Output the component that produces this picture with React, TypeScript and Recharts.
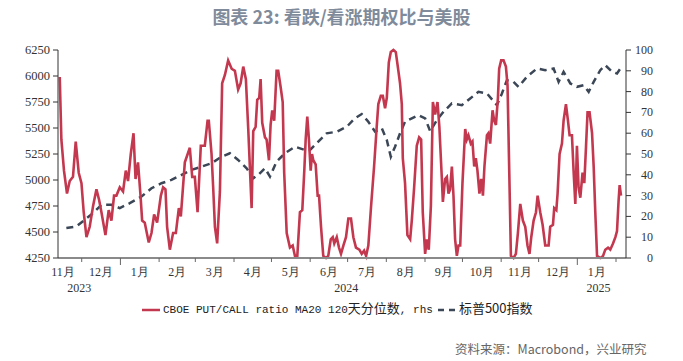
import React from 'react';
import { LineChart, Line, XAxis, YAxis } from 'recharts';

// x values are days counted from 2023-11-01
const DAY_START = 11;
const DAY_END = 466;

const RED = '#c3384f';
const SLATE = '#3b4656';
const AXIS = '#333333';
const SERIF = '"Liberation Serif", "Times New Roman", serif';
const CJK = '"Noto Sans CJK SC", sans-serif';

// CBOE put/call ratio MA20, 120-day percentile (rhs, 0-100)
const putCallPct: [number, number][] = [
  [12.4, 87], [13.7, 57], [15.8, 42], [18.2, 31], [20.4, 37], [23.0, 39], [25.2, 56], [27.6, 41],
  [29.8, 36], [31.6, 22], [33.8, 10], [36.4, 15], [39.1, 25], [41.8, 33], [43.9, 28], [45.8, 22],
  [49.0, 11], [51.6, 23], [53.8, 18], [55.9, 30], [57.8, 30], [60.5, 34], [63.1, 32], [65.3, 42],
  [67.1, 37], [69.3, 50], [71.5, 60], [73.1, 38], [75.1, 46], [77.1, 30], [78.4, 18], [80.5, 17],
  [83.7, 7.5], [85.9, 12], [88.0, 21], [90.4, 17], [93.4, 30], [95.2, 34], [97.1, 33], [98.4, 15],
  [100.6, 4], [103.2, 12], [105.4, 12], [107.8, 24], [109.4, 20], [112.6, 46], [116.6, 53], [118.5, 39],
  [120.6, 39], [122.8, 22], [125.4, 54], [128.6, 54], [130.8, 66], [131.8, 66], [134.0, 50], [135.3, 34],
  [136.7, 15], [138.5, 7], [140.7, 32], [142.5, 84], [144.7, 88], [147.3, 95], [150.1, 91], [152.7, 90],
  [155.3, 81], [157.3, 84], [159.4, 92], [161.5, 86], [163.4, 62], [166.1, 24], [167.4, 61], [169.3, 63],
  [170.6, 76], [172.2, 77], [173.3, 86], [174.6, 65], [176.8, 58], [178.1, 57], [180.0, 47], [181.3, 64],
  [182.6, 71], [184.2, 66], [186.1, 90], [187.4, 90], [189.4, 82], [191.0, 75], [192.2, 41], [194.2, 12],
  [196.8, 5], [199.0, 6], [200.8, 1], [202.7, 1], [204.8, 22], [206.7, 23], [208.3, 42], [209.4, 57],
  [210.7, 68], [212.0, 57], [213.4, 42], [214.5, 50], [215.5, 47], [217.4, 45], [219.0, 30], [220.1, 30],
  [221.7, 15], [223.5, 1], [225.7, 0], [227.5, 1], [229.5, 9], [231.1, 10], [232.3, 7], [234.3, 10],
  [236.1, 5], [237.7, 2], [239.6, 6], [241.7, 10], [243.6, 19], [245.7, 19], [247.6, 10], [249.7, 5],
  [252.4, 4], [254.3, 2], [256.2, 3.5], [257.8, 1], [259.6, 6], [261.8, 25], [264.2, 44], [266.3, 63],
  [267.6, 74], [269.6, 78], [271.2, 78], [273.0, 72], [274.4, 77], [276.0, 94], [277.6, 99], [279.7, 100],
  [281.6, 99], [283.2, 92], [285.0, 84], [286.4, 74], [287.2, 48], [289.0, 36], [290.9, 11], [293.1, 9],
  [294.4, 18], [296.3, 34], [298.4, 54], [300.3, 58], [301.9, 57], [303.2, 22], [305.1, 2], [306.4, 9],
  [308.0, 4], [309.7, 25], [311.3, 75], [313.1, 69], [315.0, 75], [316.5, 63], [318.5, 38], [319.3, 27],
  [321.1, 38], [322.5, 39], [323.8, 31], [325.1, 33], [326.5, 44], [327.8, 30], [329.1, 9], [330.5, 1],
  [331.8, 6], [333.2, 6], [335.0, 36], [337.2, 62], [338.5, 57], [339.8, 59], [341.7, 55], [343.0, 56],
  [344.4, 44], [345.7, 48], [347.0, 42], [348.6, 31], [350.0, 38], [351.4, 30], [352.6, 44], [354.6, 59],
  [355.8, 60], [357.2, 55], [359.1, 71], [360.4, 66], [361.8, 64], [363.4, 77], [364.4, 91], [366.0, 95],
  [367.9, 95], [369.8, 92], [371.1, 83], [372.5, 41], [373.8, 1], [375.9, 0], [377.8, 2], [379.4, 12],
  [381.3, 26], [383.4, 18], [385.3, 15], [387.1, 6], [388.7, 2], [390.1, 10], [392.0, 18], [393.9, 22],
  [395.2, 30], [397.3, 22], [399.2, 16], [401.3, 6], [404.0, 6], [405.3, 15], [407.5, 16], [408.5, 24],
  [410.2, 23], [411.2, 31], [412.8, 50], [414.7, 55], [416.0, 66], [417.9, 74], [419.5, 66], [420.8, 59],
  [422.7, 59], [424.0, 42], [425.4, 26], [426.7, 54], [428.0, 34], [429.4, 29], [431.2, 41], [432.6, 36],
  [434.0, 54], [435.2, 70], [436.8, 70], [438.8, 60], [440.1, 44], [441.4, 22], [442.8, 1], [445.4, 0],
  [447.6, 1], [449.4, 4], [451.6, 5], [453.4, 4], [455.6, 7], [457.5, 10], [458.8, 13], [460.1, 28],
  [460.9, 35], [462.0, 30],
];

// S&P 500 index (lhs)
const spx: [number, number][] = [
  [17.7, 4538], [25.7, 4553], [32.4, 4617], [39.1, 4682], [45.8, 4761], [53.8, 4761], [60.5, 4730],
  [68.5, 4777], [77.9, 4841], [85.9, 4921], [93.9, 4969], [101.9, 5001], [110.0, 5049], [118.0, 5097],
  [126.0, 5128], [134.0, 5161], [142.0, 5224], [148.7, 5257], [155.3, 5193], [162.1, 5113], [167.4, 5017],
  [171.4, 5049], [176.8, 5113], [180.8, 5033], [186.1, 5176], [192.8, 5257], [200.8, 5320], [208.8, 5289],
  [212.9, 5289], [219.5, 5368], [226.2, 5449], [234.3, 5464], [242.3, 5512], [248.9, 5593], [254.3, 5634],
  [259.6, 5560], [265.0, 5464], [270.4, 5497], [274.4, 5384], [277.6, 5224], [281.0, 5320], [285.0, 5449],
  [289.0, 5560], [294.4, 5593], [299.7, 5624], [305.1, 5593], [309.1, 5470], [314.5, 5576], [319.8, 5656],
  [326.5, 5736], [334.5, 5720], [341.2, 5784], [347.8, 5848], [354.6, 5832], [362.6, 5720], [366.6, 5832],
  [370.6, 5960], [375.9, 5944], [379.9, 5896], [386.6, 5992], [394.7, 6072], [401.3, 6056], [408.0, 6072],
  [412.0, 5944], [416.0, 6040], [421.4, 5928], [426.7, 5896], [432.0, 5912], [436.1, 5848], [440.1, 5944],
  [445.4, 6056], [449.4, 6104], [454.9, 6040], [458.8, 6024], [461.5, 6072],
];

const monthStarts = [30, 61, 92, 121, 152, 182, 213, 243, 274, 305, 335, 366, 396, 427, 458];
const yearStarts = [61, 427];
const monthMids = [15, 45.5, 76.5, 106.5, 136.5, 167, 197.5, 228, 258.5, 289.5, 320, 350.5, 381, 411.5, 442.5];
const monthNames = ['11月', '12月', '1月', '2月', '3月', '4月', '5月', '6月', '7月', '8月', '9月', '10月', '11月', '12月', '1月'];
const yearMids = [28, 242, 444];
const yearNames = ['2023', '2024', '2025'];
const spxTicks = [4250, 4500, 4750, 5000, 5250, 5500, 5750, 6000, 6250];
const pctTicks = [0, 10, 20, 30, 40, 50, 60, 70, 80, 90, 100];

const ratioData = putCallPct.map(([day, value]) => ({ day, value }));
const spxData = spx.map(([day, value]) => ({ day, value }));

function DateTick(props: any) {
  const { x, y, payload } = props;
  const v = payload.value;
  const mi = monthMids.indexOf(v);
  if (mi >= 0) {
    return (
      <text x={x} y={y + 18} textAnchor="middle" fontSize={12} fontFamily={SERIF} fill={AXIS}>
        {monthNames[mi]}
      </text>
    );
  }
  const yi = yearMids.indexOf(v);
  if (yi >= 0) {
    return (
      <text x={x} y={y + 34} textAnchor="middle" fontSize={12} fontFamily={SERIF} fill={AXIS}>
        {yearNames[yi]}
      </text>
    );
  }
  const major = yearStarts.includes(v);
  return <line x1={x} x2={x} y1={y} y2={y + (major ? 7 : 4)} stroke="#666" strokeWidth={1} />;
}

function RightTick(props: any) {
  const { x, y, payload } = props;
  return (
    <text x={x + 20} y={y} dy={4} textAnchor="end" fontSize={12} fontFamily={SERIF} fill={AXIS}>
      {payload.value}
    </text>
  );
}

const cjk = { fontFamily: CJK, fontSize: 13 };
const marker = { verticalAlign: 'middle' as const, display: 'inline-block' };

export default function App() {
  const dateTicks = [...monthStarts, ...monthMids, ...yearMids].sort((a, b) => a - b);
  return (
    <div style={{ position: 'fixed', left: 0, top: 0, width: 683, height: 361, background: '#fff' }}>
      <div
        style={{
          position: 'absolute', left: 0, top: 3, width: 683, textAlign: 'center',
          fontFamily: CJK, fontWeight: 700, fontSize: 18, color: '#7f8b9b',
        }}
      >
        图表 23: 看跌/看涨期权比与美股
      </div>
      <LineChart
        width={683}
        height={361}
        margin={{ top: 50, right: 17, bottom: 63, left: 8 }}
        style={{ position: 'absolute', left: 0, top: 0 }}
      >
        <XAxis
          xAxisId="d"
          dataKey="day"
          type="number"
          domain={[DAY_START, DAY_END]}
          allowDataOverflow
          ticks={dateTicks}
          interval={0}
          tickLine={false}
          tickSize={0}
          tickMargin={0}
          tick={<DateTick />}
          axisLine={{ stroke: '#8a8a8a', strokeWidth: 2 }}
          height={40}
        />
        <YAxis
          yAxisId="spx"
          orientation="left"
          domain={[4250, 6250]}
          ticks={spxTicks}
          interval={0}
          width={50}
          tickSize={5}
          tickMargin={3}
          tick={{ fontSize: 12.5, fontFamily: SERIF, fill: AXIS }}
          axisLine={{ stroke: AXIS }}
          tickLine={{ stroke: AXIS }}
        />
        <YAxis
          yAxisId="pct"
          orientation="right"
          domain={[0, 100]}
          ticks={pctTicks}
          interval={0}
          width={40}
          tickSize={5}
          tickMargin={2}
          tick={<RightTick />}
          axisLine={{ stroke: AXIS }}
          tickLine={{ stroke: AXIS }}
        />
        <Line
          xAxisId="d"
          yAxisId="spx"
          data={spxData}
          dataKey="value"
          stroke={SLATE}
          strokeWidth={2.5}
          strokeDasharray="7 5"
          dot={false}
          isAnimationActive={false}
        />
        <Line
          xAxisId="d"
          yAxisId="pct"
          data={ratioData}
          dataKey="value"
          stroke={RED}
          strokeWidth={2.6}
          dot={false}
          isAnimationActive={false}
        />
      </LineChart>
      <div
        style={{
          position: 'absolute', left: 142, top: 299, lineHeight: '18px',
          fontFamily: '"Liberation Mono", monospace', fontSize: 11, color: '#222',
          whiteSpace: 'nowrap',
        }}
      >
        <svg width={18} height={10} style={{ ...marker, marginRight: 3 }}>
          <line x1={0} x2={18} y1={5} y2={5} stroke={RED} strokeWidth={2.5} />
        </svg>
        <span>CBOE PUT/CALL ratio MA20 120</span>
        <span style={cjk}>天分位数</span>
        <span>, rhs</span>
        <svg width={18} height={10} style={{ ...marker, marginLeft: 5, marginRight: 3 }}>
          <line x1={0} x2={18} y1={5} y2={5} stroke={SLATE} strokeWidth={2.5} strokeDasharray="6 5" />
        </svg>
        <span style={cjk}>标普500指数</span>
      </div>
      <div
        style={{
          position: 'absolute', left: 455, top: 339, whiteSpace: 'nowrap',
          fontFamily: CJK, fontSize: 12.5, color: '#666',
        }}
      >
        资料来源：Macrobond，兴业研究
      </div>
    </div>
  );
}
